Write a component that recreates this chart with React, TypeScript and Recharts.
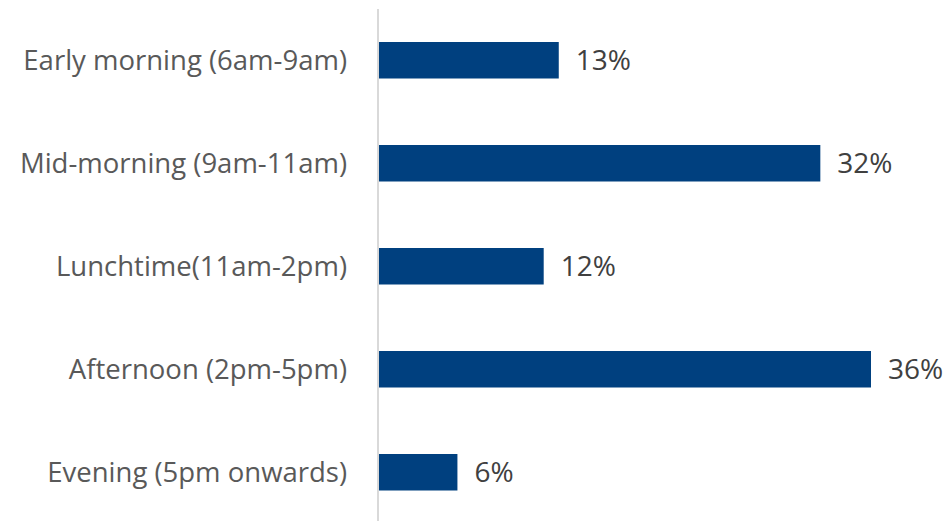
import { BarChart, Bar, XAxis, YAxis, LabelList } from "recharts";

const categories = [
  "Early morning (6am-9am)",
  "Mid-morning (9am-11am)",
  "Lunchtime(11am-2pm)",
  "Afternoon (2pm-5pm)",
  "Evening (5pm onwards)",
];
const shares = [13.2, 32.3, 12.1, 36.0, 5.8];

const data = categories.map((name, i) => ({ name, share: shares[i] }));

const fontFamily = "'Open Sans', 'Noto Sans', sans-serif";

const App = () => {
  return (
    <div
      style={{
        position: "absolute",
        left: 0,
        top: 0,
        width: 949,
        height: 521,
        overflow: "hidden",
        background: "#fff",
      }}
    >
      <BarChart
        width={949}
        height={524}
        data={data}
        layout="vertical"
        margin={{ top: 9, right: 78, bottom: 0, left: 0 }}
      >
        <XAxis type="number" domain={[0, 36]} hide />
        <YAxis
          type="category"
          dataKey="name"
          width={378}
          axisLine={{ stroke: "#d9d9d9", strokeWidth: 2 }}
          tickLine={false}
          tickSize={0}
          tickMargin={31}
          tick={{ fill: "#595959", fontSize: 27.5, fontFamily }}
        />
        <Bar dataKey="share" fill="#00407f" barSize={36.5} isAnimationActive={false}>
          <LabelList
            dataKey="share"
            position="right"
            offset={17}
            formatter={(v: number) => `${Math.round(v)}%`}
            style={{ fill: "#404040", fontSize: 28, fontFamily }}
          />
        </Bar>
      </BarChart>
    </div>
  );
};

export default App;
